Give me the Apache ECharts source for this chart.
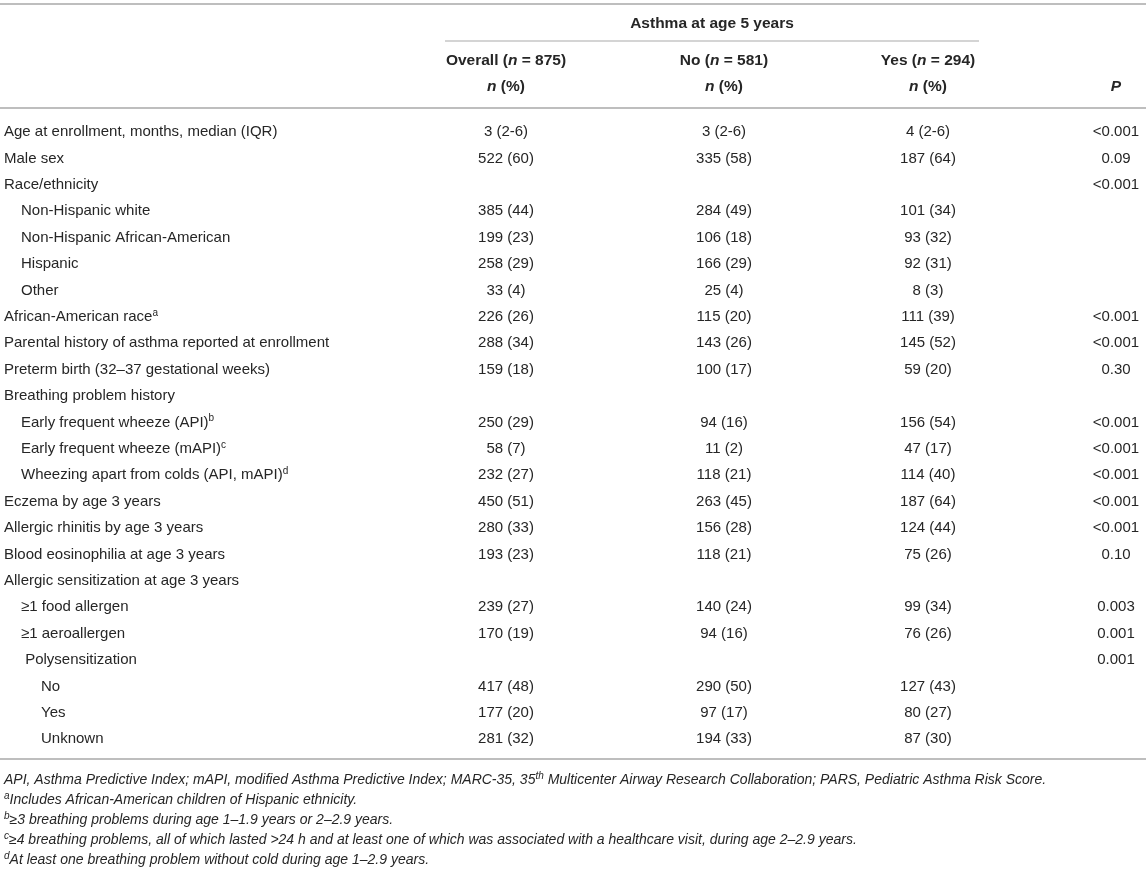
<!DOCTYPE html>
<html>
<head>
<meta charset="utf-8">
<title>Asthma at age 5 years</title>
<script src="https://cdn.jsdelivr.net/npm/echarts@6/dist/echarts.min.js"></script>
<style>
  html, body { margin: 0; padding: 0; background: #fff; }
  #main { width: 1146px; height: 871px; }
</style>
</head>
<body>
<div id="main"></div>
<script>
// table rows (labels, indent level, footnote mark)
var rowLabels = [
  'Age at enrollment, months, median (IQR)',
  'Male sex',
  'Race/ethnicity',
  'Non-Hispanic white',
  'Non-Hispanic African-American',
  'Hispanic',
  'Other',
  'African-American race',
  'Parental history of asthma reported at enrollment',
  'Preterm birth (32–37 gestational weeks)',
  'Breathing problem history',
  'Early frequent wheeze (API)',
  'Early frequent wheeze (mAPI)',
  'Wheezing apart from colds (API, mAPI)',
  'Eczema by age 3 years',
  'Allergic rhinitis by age 3 years',
  'Blood eosinophilia at age 3 years',
  'Allergic sensitization at age 3 years',
  '≥1 food allergen',
  '≥1 aeroallergen',
  ' Polysensitization',
  'No',
  'Yes',
  'Unknown'
];
var rowLevel = [0, 0, 0, 1, 1, 1, 1, 0, 0, 0, 0, 1, 1, 1, 0, 0, 0, 0, 1, 1, 1, 2, 2, 2];
var rowNote = ['', '', '', '', '', '', '', 'a', '', '', '', 'b', 'c', 'd', '', '', '', '', '', '', '', '', '', ''];

// n (%) per group
var overall = ['3 (2-6)', '522 (60)', '', '385 (44)', '199 (23)', '258 (29)', '33 (4)', '226 (26)',
  '288 (34)', '159 (18)', '', '250 (29)', '58 (7)', '232 (27)', '450 (51)', '280 (33)', '193 (23)',
  '', '239 (27)', '170 (19)', '', '417 (48)', '177 (20)', '281 (32)'];
var noAsthma = ['3 (2-6)', '335 (58)', '', '284 (49)', '106 (18)', '166 (29)', '25 (4)', '115 (20)',
  '143 (26)', '100 (17)', '', '94 (16)', '11 (2)', '118 (21)', '263 (45)', '156 (28)', '118 (21)',
  '', '140 (24)', '94 (16)', '', '290 (50)', '97 (17)', '194 (33)'];
var yesAsthma = ['4 (2-6)', '187 (64)', '', '101 (34)', '93 (32)', '92 (31)', '8 (3)', '111 (39)',
  '145 (52)', '59 (20)', '', '156 (54)', '47 (17)', '114 (40)', '187 (64)', '124 (44)', '75 (26)',
  '', '99 (34)', '76 (26)', '', '127 (43)', '80 (27)', '87 (30)'];
var pValues = ['<0.001', '0.09', '<0.001', '', '', '', '', '<0.001', '<0.001', '0.30', '',
  '<0.001', '<0.001', '<0.001', '<0.001', '<0.001', '0.10', '', '0.003', '0.001', '0.001', '', '', ''];

var groupNames = ['Overall', 'No', 'Yes'];
var groupSizes = [875, 581, 294];
var spannerTitle = 'Asthma at age 5 years';

var footnotes = [
  'API, Asthma Predictive Index; mAPI, modified Asthma Predictive Index; MARC-35, 35{fsup|th} Multicenter Airway Research Collaboration; PARS, Pediatric Asthma Risk Score.',
  '{fsup|a}Includes African-American children of Hispanic ethnicity.',
  '{fsup|b}≥3 breathing problems during age 1–1.9 years or 2–2.9 years.',
  '{fsup|c}≥4 breathing problems, all of which lasted >24 h and at least one of which was associated with a healthcare visit, during age 2–2.9 years.',
  '{fsup|d}At least one breathing problem without cold during age 1–2.9 years.'
];

// layout
var FONT = '"Liberation Sans", Arial, Helvetica, sans-serif';
var INK = '#262626';
var RULE = '#a9a9a9';
var W = 1146;
var colX = [506, 724, 928];   // group column centres
var pX = 1116;
var indentX = [4, 21, 41];

function tok(size, weight, style) {
  return { fontFamily: FONT, fontSize: size, fontWeight: weight, fontStyle: style, fill: INK };
}
var bodyStyle = tok(15, 'normal', 'normal');
bodyStyle.lineHeight = 18;
var richBody = {
  sup: Object.assign(tok(10, 'normal', 'normal'), { verticalAlign: 'top', lineHeight: 10 })
};
var headStyle = tok(15.5, 'bold', 'normal');
headStyle.lineHeight = 18;
var richHead = { it: tok(15.5, 'bold', 'italic') };
var noteStyle = tok(14, 'normal', 'italic');
noteStyle.lineHeight = 17;
var richNote = {
  fsup: Object.assign(tok(10, 'normal', 'italic'), { verticalAlign: 'top', lineHeight: 10 })
};

function cellSeries(name, texts, getX, align, withNotes) {
  return {
    name: name,
    type: 'custom',
    silent: true,
    data: texts.map(function (t, i) { return [getX(i), i]; }),
    renderItem: function (params, api) {
      var i = params.dataIndex;
      var txt = texts[i];
      if (!txt) return null;
      if (withNotes && rowNote[i]) txt += '{sup|' + rowNote[i] + '}';
      var pt = api.coord([api.value(0), api.value(1)]);
      return {
        type: 'text',
        x: pt[0],
        y: pt[1],
        style: Object.assign({ text: txt, align: align, verticalAlign: 'middle', rich: richBody }, bodyStyle)
      };
    }
  };
}

function headText(txt, x, y) {
  return {
    type: 'text', x: x, y: y, silent: true,
    style: Object.assign({ text: txt, align: 'center', verticalAlign: 'middle', rich: richHead }, headStyle)
  };
}
function rule(x1, x2, y, w) {
  return { type: 'line', silent: true, shape: { x1: x1, y1: y, x2: x2, y2: y }, style: { stroke: RULE, lineWidth: w } };
}

var graphics = [
  rule(0, W, 4, 1.6),
  rule(445, 979, 41, 1.2),
  rule(0, W, 108, 1.4),
  rule(0, W, 759, 1.4),
  headText(spannerTitle, (445 + 979) / 2, 24),
  headText('{it|P}', pX, 87)
];
groupNames.forEach(function (g, k) {
  graphics.push(headText(g + ' ({it|n} = ' + groupSizes[k] + ')', colX[k], 61));
  graphics.push(headText('{it|n} (%)', colX[k], 87));
});
footnotes.forEach(function (f, k) {
  graphics.push({
    type: 'text', x: 4, y: 780 + k * 20, silent: true,
    style: Object.assign({ text: f, align: 'left', verticalAlign: 'middle', rich: richNote }, noteStyle)
  });
});

var chart = echarts.init(document.getElementById('main'));
chart.setOption({
  animation: false,
  backgroundColor: '#fff',
  grid: { left: 0, right: 0, top: 118.8, bottom: 118.6 },
  xAxis: { type: 'value', min: 0, max: W, show: false },
  yAxis: {
    type: 'category', inverse: true, show: false,
    data: rowLabels.map(function (l, i) { return String(i); })
  },
  graphic: graphics,
  series: [
    cellSeries('label', rowLabels, function (i) { return indentX[rowLevel[i]]; }, 'left', true),
    cellSeries('overall', overall, function () { return colX[0]; }, 'center', false),
    cellSeries('no', noAsthma, function () { return colX[1]; }, 'center', false),
    cellSeries('yes', yesAsthma, function () { return colX[2]; }, 'center', false),
    cellSeries('p', pValues, function () { return pX; }, 'center', false)
  ]
});
</script>
</body>
</html>
